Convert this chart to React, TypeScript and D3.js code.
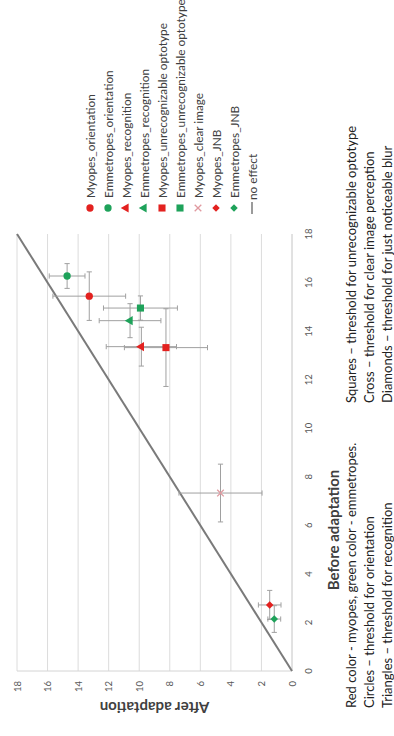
import React from "react";
import * as d3 from "d3";

const W = 394;
const H = 736;

const seriesNames = [
  "Myopes_orientation",
  "Emmetropes_orientation",
  "Myopes_recognition",
  "Emmetropes_recognition",
  "Myopes_unrecognizable optotype",
  "Emmetropes_unrecognizable optotype",
  "Myopes_clear image",
  "Myopes_JNB",
  "Emmetropes_JNB",
];
const beforeVals = [15.44, 16.27, 13.36, 14.43, 13.32, 14.95, 7.33, 2.72, 2.14];
const afterVals = [13.27, 14.72, 9.86, 10.6, 8.25, 9.92, 4.68, 1.46, 1.16];
const beforeErr = [1.0, 0.51, 0.8, 0.7, 1.6, 0.5, 1.19, 0.6, 0.55];
const afterErr = [2.38, 1.17, 2.3, 2.02, 2.72, 2.42, 2.72, 0.74, 0.42];
const seriesColors = ["#e3211f", "#1ea25a", "#e3211f", "#1ea25a", "#e3211f", "#1ea25a", "#e09aa0", "#e3211f", "#1ea25a"];
const seriesShapes = ["circle", "circle", "triangle", "triangle", "square", "square", "x", "diamond", "diamond"];
const tickValues = [0, 2, 4, 6, 8, 10, 12, 14, 16, 18];
const noEffectLabel = "no effect";
const xTitle = "Before adaptation";
const yTitle = "After adaptation";
const footnoteLeft = [
  "Red color - myopes, green color - emmetropes.",
  "Circles – threshold for orientation",
  "Triangles – threshold for recognition",
];
const footnoteRight = [
  "Squares – threshold for unrecognizable optotype",
  "Cross – threshold for clear image perception",
  "Diamonds – threshold for just noticeable blur",
];

const FONT = "Lato, 'Open Sans', sans-serif";

const symbolTypes: Record<string, any> = {
  circle: d3.symbolCircle,
  triangle: d3.symbolTriangle,
  square: d3.symbolSquare,
  diamond: d3.symbolDiamond2,
  x: d3.symbolX,
};
const symbolSizes: Record<string, number> = {
  circle: 42,
  triangle: 36,
  square: 50,
  diamond: 36,
  x: 30,
};

function Marker({ shape, color, x, y }: { shape: string; color: string; x: number; y: number }) {
  const path = d3.symbol().type(symbolTypes[shape]).size(symbolSizes[shape])()!;
  if (shape === "x") {
    return <path d={path} transform={`translate(${x},${y})`} fill="none" stroke={color} strokeWidth={1.3} />;
  }
  return <path d={path} transform={`translate(${x},${y})`} fill={color} />;
}

export default function App() {
  // Original (unrotated) chart frame: width = H, height = W. Rotated -90deg onto the page.
  const x = d3.scaleLinear().domain([0, 18]).range([65, 502]);
  const y = d3.scaleLinear().domain([0, 18]).range([292, 17]);
  const cap = 2.6;
  const errColor = "#a0a0a0";
  const legendX = 528;
  const legendY0 = 90;
  const legendStep = 18;

  return (
    <svg width={W} height={H} style={{ position: "absolute", left: 0, top: 0, background: "#fff" }}>
      <rect width={W} height={H} fill="#fff" />
      <g transform={`translate(0,${H}) rotate(-90)`} fontFamily={FONT}>
        {/* gridlines */}
        {tickValues.filter((t) => t > 0).map((t) => (
          <line key={"g" + t} x1={x(0)} x2={x(18)} y1={y(t)} y2={y(t)} stroke="#dcdcdc" strokeWidth={1} />
        ))}
        {/* axes lines */}
        <line x1={x(0)} x2={x(18)} y1={y(0)} y2={y(0)} stroke="#c4c4c4" strokeWidth={1} />
        <line x1={x(0)} x2={x(0)} y1={y(0)} y2={y(18)} stroke="#d4d4d4" strokeWidth={1} />
        {/* tick labels */}
        {tickValues.map((t) => (
          <text key={"xt" + t} x={x(t)} y={y(0) + 16} textAnchor="middle" dominantBaseline="central" fontSize={9.5} fill="#595959">
            {t}
          </text>
        ))}
        {tickValues.map((t) => (
          <text key={"yt" + t} x={x(0) - 10} y={y(t)} textAnchor="end" dominantBaseline="central" fontSize={9.5} fill="#595959">
            {t}
          </text>
        ))}
        {/* no effect line */}
        <line x1={x(0)} y1={y(0)} x2={x(18)} y2={y(18)} stroke="#7a7a7a" strokeWidth={2} />
        {/* error bars */}
        {seriesNames.map((n, i) => {
          const cx = x(beforeVals[i]);
          const cy = y(afterVals[i]);
          const x0 = x(beforeVals[i] - beforeErr[i]);
          const x1 = x(beforeVals[i] + beforeErr[i]);
          const y0 = y(afterVals[i] - afterErr[i]);
          const y1 = y(afterVals[i] + afterErr[i]);
          return (
            <g key={"e" + n} stroke={errColor} strokeWidth={1}>
              <line x1={x0} x2={x1} y1={cy} y2={cy} />
              <line x1={x0} x2={x0} y1={cy - cap} y2={cy + cap} />
              <line x1={x1} x2={x1} y1={cy - cap} y2={cy + cap} />
              <line x1={cx} x2={cx} y1={y0} y2={y1} />
              <line x1={cx - cap} x2={cx + cap} y1={y0} y2={y0} />
              <line x1={cx - cap} x2={cx + cap} y1={y1} y2={y1} />
            </g>
          );
        })}
        {/* markers */}
        {seriesNames.map((n, i) => (
          <Marker key={"m" + n} shape={seriesShapes[i]} color={seriesColors[i]} x={x(beforeVals[i])} y={y(afterVals[i])} />
        ))}
        {/* legend */}
        {seriesNames.map((n, i) => (
          <g key={"l" + n}>
            <Marker shape={seriesShapes[i]} color={seriesColors[i]} x={legendX} y={legendY0 + i * legendStep} />
            <text x={legendX + 10} y={legendY0 + i * legendStep} dominantBaseline="central" fontSize={11.8} fill="#404040">
              {n}
            </text>
          </g>
        ))}
        <g>
          <line
            x1={legendX - 6}
            x2={legendX + 6}
            y1={legendY0 + seriesNames.length * legendStep}
            y2={legendY0 + seriesNames.length * legendStep}
            stroke="#7a7a7a"
            strokeWidth={1.5}
          />
          <text x={legendX + 8} y={legendY0 + seriesNames.length * legendStep} dominantBaseline="central" fontSize={11.8} fill="#404040">
            {noEffectLabel}
          </text>
        </g>
        {/* axis titles */}
        <text x={H - 530} y={333} textAnchor="middle" dominantBaseline="central" fontSize={15} fontWeight={700} fill="#404040">
          {xTitle}
        </text>
        <text
          transform={`translate(28,${(y(0) + y(18)) / 2}) rotate(-90)`}
          textAnchor="middle"
          dominantBaseline="central"
          fontSize={15}
          fontWeight={700}
          fill="#404040"
        >
          {yTitle}
        </text>
        {/* footnotes */}
        {footnoteLeft.map((s, i) => (
          <text key={"fl" + i} x={28} y={351 + i * 18} dominantBaseline="central" fontSize={13} fill="#222">
            {s}
          </text>
        ))}
        {footnoteRight.map((s, i) => (
          <text key={"fr" + i} x={333} y={351 + i * 18} dominantBaseline="central" fontSize={13} fill="#222">
            {s}
          </text>
        ))}
      </g>
    </svg>
  );
}
